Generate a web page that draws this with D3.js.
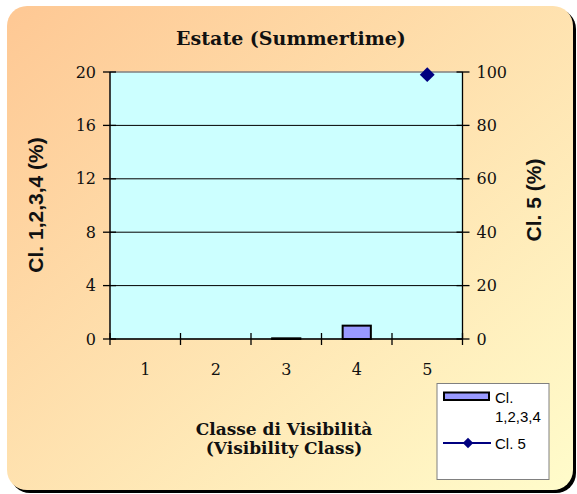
<!DOCTYPE html>
<html>
<head>
<meta charset="utf-8">
<script src="https://cdn.jsdelivr.net/npm/d3@7"></script>
<style>
  html, body { margin: 0; padding: 0; background: #ffffff; }
  svg { display: block; }
</style>
</head>
<body>
<svg id="chart" width="577" height="494"></svg>
<script>
// ---- data ----
const categories = ["1", "2", "3", "4", "5"];
const cl1234Values = [0, 0, 0.05, 1, 0];       // Cl. 1,2,3,4 (%) — left axis, bars
const cl5Values = [null, null, null, null, 99]; // Cl. 5 (%) — right axis, line+marker
const leftTicks = [0, 4, 8, 12, 16, 20];
const rightTicks = [0, 20, 40, 60, 80, 100];
const titleText = "Estate (Summertime)";
const xTitleLines = ["Classe di Visibilità", "(Visibility Class)"];
const leftTitle = "Cl. 1,2,3,4 (%)";
const rightTitle = "Cl. 5 (%)";
const legendLabels = [["Cl.", "1,2,3,4"], ["Cl. 5"]];

// ---- layout ----
const svg = d3.select("#chart");
const serif = "'DejaVu Serif',serif";
const sans = "'Liberation Sans',Arial,sans-serif";
const plot = { x0: 110, x1: 462.5, y0: 72, y1: 339 };

const defs = svg.append("defs");
const grad = defs.append("linearGradient").attr("id", "bg")
  .attr("x1", "0%").attr("y1", "0%").attr("x2", "100%").attr("y2", "100%");
grad.append("stop").attr("offset", "0%").attr("stop-color", "#FEC894");
grad.append("stop").attr("offset", "100%").attr("stop-color", "#FFFCCB");

// shadow + card
svg.append("rect").attr("x", 10).attr("y", 9).attr("width", 566).attr("height", 484)
  .attr("rx", 20).attr("fill", "#000");
svg.append("rect").attr("x", 7).attr("y", 6).attr("width", 566).attr("height", 484)
  .attr("rx", 20).attr("fill", "url(#bg)");

// scales
const xBand = d3.scaleBand().domain(categories).range([plot.x0, plot.x1]).padding(0);
const xEdge = d3.scaleLinear().domain([0, categories.length]).range([plot.x0, plot.x1]);
const yL = d3.scaleLinear().domain([0, 20]).range([plot.y1, plot.y0]);
const yR = d3.scaleLinear().domain([0, 100]).range([plot.y1, plot.y0]);

// plot area
svg.append("rect").attr("x", plot.x0).attr("y", plot.y0)
  .attr("width", plot.x1 - plot.x0).attr("height", plot.y1 - plot.y0)
  .attr("fill", "#CCFFFF").attr("stroke", "#808080").attr("stroke-width", 1);

// gridlines
svg.append("g").selectAll("line").data(leftTicks.slice(1)).join("line")
  .attr("x1", plot.x0).attr("x2", plot.x1)
  .attr("y1", d => yL(d)).attr("y2", d => yL(d))
  .attr("stroke", d => d === 20 ? "#808080" : "#000").attr("stroke-width", 1);

// bars
const barW = xBand.bandwidth() * 0.4;
svg.append("g").selectAll("rect").data(categories.map((c, i) => ({ c, v: cl1234Values[i] })).filter(d => d.v > 0))
  .join("rect")
  .attr("x", d => xBand(d.c) + xBand.bandwidth() / 2 - barW / 2)
  .attr("y", d => yL(d.v))
  .attr("width", barW)
  .attr("height", d => yL(0) - yL(d.v))
  .attr("fill", "#9999FF").attr("stroke", "#000").attr("stroke-width", 2);

// axes lines
const axG = svg.append("g").attr("stroke", "#000").attr("stroke-width", 1.3);
axG.append("line").attr("x1", plot.x0).attr("x2", plot.x0).attr("y1", plot.y0).attr("y2", plot.y1);
axG.append("line").attr("x1", plot.x1).attr("x2", plot.x1).attr("y1", plot.y0).attr("y2", plot.y1);
axG.append("line").attr("x1", plot.x0).attr("x2", plot.x1).attr("y1", plot.y1).attr("y2", plot.y1);

// axis ticks (crossing)
axG.selectAll(".lt").data(leftTicks).join("line").attr("class", "lt")
  .attr("x1", plot.x0 - 7).attr("x2", plot.x0 + 6).attr("y1", d => yL(d)).attr("y2", d => yL(d));
axG.selectAll(".rt").data(rightTicks).join("line").attr("class", "rt")
  .attr("x1", plot.x1 - 6).attr("x2", plot.x1 + 7).attr("y1", d => yR(d)).attr("y2", d => yR(d));
axG.selectAll(".bt").data(d3.range(categories.length + 1)).join("line").attr("class", "bt")
  .attr("x1", d => xEdge(d)).attr("x2", d => xEdge(d)).attr("y1", plot.y1 - 6).attr("y2", plot.y1 + 6);

// tick labels
svg.append("g").selectAll("text").data(leftTicks).join("text")
  .attr("x", plot.x0 - 14).attr("y", d => yL(d)).attr("dy", "0.35em")
  .attr("text-anchor", "end").attr("font-family", serif).attr("font-size", 16).attr("fill", "#111")
  .text(d => d);
svg.append("g").selectAll("text").data(rightTicks).join("text")
  .attr("x", plot.x1 + 14).attr("y", d => yR(d)).attr("dy", "0.35em")
  .attr("text-anchor", "start").attr("font-family", serif).attr("font-size", 16).attr("fill", "#111")
  .text(d => d);
svg.append("g").selectAll("text").data(categories).join("text")
  .attr("x", d => xBand(d) + xBand.bandwidth() / 2).attr("y", 375)
  .attr("text-anchor", "middle").attr("font-family", serif).attr("font-size", 16).attr("fill", "#111")
  .text(d => d);

// line series (Cl. 5)
const lineData = categories.map((c, i) => ({ c, v: cl5Values[i] }));
const line = d3.line().defined(d => d.v != null)
  .x(d => xBand(d.c) + xBand.bandwidth() / 2).y(d => yR(d.v));
svg.append("path").datum(lineData).attr("d", line)
  .attr("fill", "none").attr("stroke", "#000080").attr("stroke-width", 2);
svg.append("g").selectAll("path").data(lineData.filter(d => d.v != null)).join("path")
  .attr("d", d3.symbol().type(d3.symbolSquare).size(110))
  .attr("transform", d => `translate(${xBand(d.c) + xBand.bandwidth() / 2},${yR(d.v)}) rotate(45)`)
  .attr("fill", "#000080");

// titles
svg.append("text").attr("x", 291).attr("y", 45).attr("text-anchor", "middle")
  .attr("font-family", serif).attr("font-weight", "bold").attr("font-size", 19).attr("fill", "#111")
  .text(titleText);
const xt = svg.append("text").attr("text-anchor", "middle")
  .attr("font-family", serif).attr("font-weight", "bold").attr("font-size", 17).attr("fill", "#111");
xTitleLines.forEach((t, i) => {
  xt.append("tspan").attr("x", 284).attr("y", 435 + i * 19).text(t);
});
svg.append("text").attr("transform", "translate(43,205) rotate(-90)").attr("text-anchor", "middle")
  .attr("font-family", sans).attr("font-weight", "bold").attr("font-size", 21).attr("fill", "#111")
  .text(leftTitle);
svg.append("text").attr("transform", "translate(541,200) rotate(-90)").attr("text-anchor", "middle")
  .attr("font-family", sans).attr("font-weight", "bold").attr("font-size", 21).attr("fill", "#111")
  .text(rightTitle);

// legend
const lg = svg.append("g");
lg.append("rect").attr("x", 437).attr("y", 383.5).attr("width", 112).attr("height", 96)
  .attr("fill", "#fff").attr("stroke", "#808080").attr("stroke-width", 1);
lg.append("rect").attr("x", 444).attr("y", 392.5).attr("width", 45).attr("height", 7.5)
  .attr("fill", "#9999FF").attr("stroke", "#000").attr("stroke-width", 2);
const lt1 = lg.append("text").attr("font-family", sans).attr("font-size", 15).attr("fill", "#000");
legendLabels[0].forEach((t, i) => lt1.append("tspan").attr("x", 495).attr("y", 403 + i * 19).text(t));
lg.append("line").attr("x1", 443).attr("x2", 491).attr("y1", 443).attr("y2", 443)
  .attr("stroke", "#000080").attr("stroke-width", 2);
lg.append("path").attr("d", d3.symbol().type(d3.symbolSquare).size(55))
  .attr("transform", "translate(468,443) rotate(45)").attr("fill", "#000080");
lg.append("text").attr("x", 495).attr("y", 449).attr("font-family", sans).attr("font-size", 15)
  .attr("fill", "#000").text(legendLabels[1][0]);
</script>
</body>
</html>
